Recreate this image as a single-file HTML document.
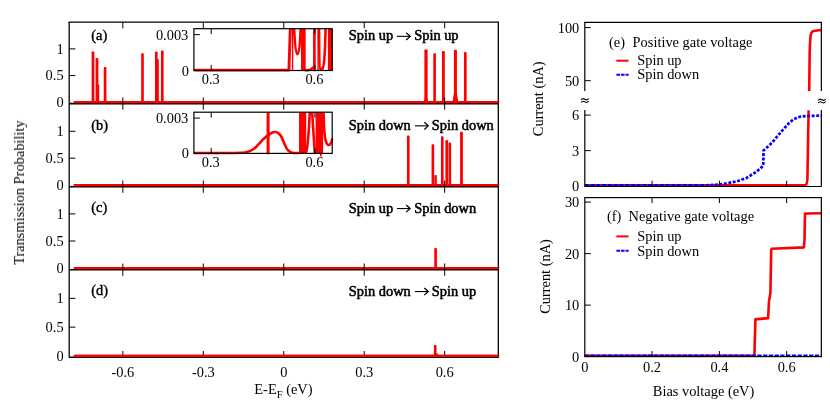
<!DOCTYPE html>
<html lang="en">
<head>
<meta charset="utf-8">
<title>Transmission probability and current</title>
<style>
html,body{margin:0;padding:0;background:#fff;}
body{width:830px;height:415px;overflow:hidden;font-family:"Liberation Serif",serif;}
svg{display:block;}
text{font-family:"Liberation Serif",serif;}
</style>
</head>
<body>
<svg width="830" height="415" viewBox="0 0 830 415" font-family='"Liberation Serif", serif' fill="#000">
<rect x="0" y="0" width="830" height="415" fill="#fff"/>
<defs><mask id="gm" maskUnits="userSpaceOnUse" x="0" y="0" width="830" height="415"><rect x="0" y="0" width="830" height="415" fill="#fff"/></mask></defs>
<g mask="url(#gm)">
<line x1="74.8" y1="102.20" x2="498.30" y2="102.20" stroke="#ff0000" stroke-width="2.3" stroke-linecap="round"/>
<rect x="91.62" y="51.57" width="2.75" height="50.63" fill="#ff0000" rx="0.8"/>
<rect x="95.62" y="57.96" width="2.75" height="44.24" fill="#ff0000" rx="0.8"/>
<rect x="97.38" y="84.61" width="1.85" height="17.59" fill="#ff0000" rx="0.8"/>
<rect x="103.77" y="67.02" width="2.65" height="35.18" fill="#ff0000" rx="0.8"/>
<rect x="141.18" y="53.16" width="2.65" height="49.04" fill="#ff0000" rx="0.8"/>
<rect x="154.98" y="51.57" width="2.65" height="50.63" fill="#ff0000" rx="0.8"/>
<rect x="156.78" y="59.03" width="2.05" height="43.17" fill="#ff0000" rx="0.8"/>
<rect x="160.98" y="50.50" width="2.65" height="51.70" fill="#ff0000" rx="0.8"/>
<rect x="424.38" y="49.43" width="3.25" height="52.77" fill="#ff0000" rx="0.8"/>
<rect x="433.28" y="53.16" width="2.65" height="49.04" fill="#ff0000" rx="0.8"/>
<rect x="441.97" y="51.03" width="2.85" height="51.17" fill="#ff0000" rx="0.8"/>
<rect x="453.88" y="49.70" width="3.05" height="52.50" fill="#ff0000" rx="0.8"/>
<rect x="463.98" y="52.10" width="2.65" height="50.10" fill="#ff0000" rx="0.8"/>
<polygon points="452.40,102.20 454.60,89.41 456.20,89.41 458.40,102.20" fill="#ff0000"/>
<polygon points="423.60,102.20 425.20,96.87 426.80,96.87 428.40,102.20" fill="#ff0000"/>
<line x1="74.8" y1="185.10" x2="498.30" y2="185.10" stroke="#ff0000" stroke-width="2.3" stroke-linecap="round"/>
<rect x="406.98" y="135.60" width="2.65" height="49.50" fill="#ff0000" rx="0.8"/>
<rect x="431.57" y="144.21" width="2.65" height="40.89" fill="#ff0000" rx="0.8"/>
<rect x="434.38" y="174.88" width="2.45" height="10.22" fill="#ff0000" rx="0.8"/>
<rect x="440.98" y="136.14" width="2.65" height="48.96" fill="#ff0000" rx="0.8"/>
<rect x="445.38" y="139.91" width="2.65" height="45.19" fill="#ff0000" rx="0.8"/>
<rect x="448.48" y="142.60" width="2.65" height="42.50" fill="#ff0000" rx="0.8"/>
<rect x="460.07" y="131.84" width="2.85" height="53.26" fill="#ff0000" rx="0.8"/>
<line x1="74.8" y1="268.10" x2="498.30" y2="268.10" stroke="#ff0000" stroke-width="2.3" stroke-linecap="round"/>
<rect x="434.28" y="248.05" width="2.65" height="20.05" fill="#ff0000" rx="0.8"/>
<line x1="74.8" y1="355.90" x2="498.30" y2="355.90" stroke="#ff0000" stroke-width="2.3" stroke-linecap="round"/>
<rect x="433.88" y="344.97" width="2.65" height="10.93" fill="#ff0000" rx="0.8"/>
<rect x="435.88" y="353.60" width="2.25" height="2.30" fill="#ff0000" rx="0.8"/>
<line x1="69.20" y1="22.10" x2="69.20" y2="357.85" stroke="#000" stroke-width="1.3" />
<line x1="498.30" y1="22.10" x2="498.30" y2="357.85" stroke="#000" stroke-width="1.3" />
<line x1="68.55" y1="22.10" x2="498.95" y2="22.10" stroke="#000" stroke-width="1.3" />
<line x1="69.20" y1="103.65" x2="498.30" y2="103.65" stroke="#000" stroke-width="1.6" />
<line x1="69.20" y1="186.80" x2="498.30" y2="186.80" stroke="#000" stroke-width="1.6" />
<line x1="69.20" y1="269.80" x2="498.30" y2="269.80" stroke="#000" stroke-width="1.6" />
<line x1="69.20" y1="357.30" x2="498.30" y2="357.30" stroke="#000" stroke-width="1.6" />
<line x1="74.8" y1="102.20" x2="497.70" y2="102.20" stroke="#ff0000" stroke-width="2.3" stroke-linecap="round"/>
<line x1="74.8" y1="185.10" x2="497.70" y2="185.10" stroke="#ff0000" stroke-width="2.3" stroke-linecap="round"/>
<line x1="74.8" y1="268.10" x2="497.70" y2="268.10" stroke="#ff0000" stroke-width="2.3" stroke-linecap="round"/>
<line x1="74.8" y1="355.90" x2="497.70" y2="355.90" stroke="#ff0000" stroke-width="2.3" stroke-linecap="round"/>
<line x1="122.84" y1="22.10" x2="122.84" y2="28.30" stroke="#000" stroke-width="1.0" />
<line x1="122.84" y1="97.35" x2="122.84" y2="109.65" stroke="#000" stroke-width="1.0" />
<line x1="122.84" y1="180.50" x2="122.84" y2="192.80" stroke="#000" stroke-width="1.0" />
<line x1="122.84" y1="263.50" x2="122.84" y2="275.80" stroke="#000" stroke-width="1.0" />
<line x1="122.84" y1="351.00" x2="122.84" y2="354.90" stroke="#000" stroke-width="1.0" />
<line x1="203.29" y1="22.10" x2="203.29" y2="28.30" stroke="#000" stroke-width="1.0" />
<line x1="203.29" y1="97.35" x2="203.29" y2="109.65" stroke="#000" stroke-width="1.0" />
<line x1="203.29" y1="180.50" x2="203.29" y2="192.80" stroke="#000" stroke-width="1.0" />
<line x1="203.29" y1="263.50" x2="203.29" y2="275.80" stroke="#000" stroke-width="1.0" />
<line x1="203.29" y1="351.00" x2="203.29" y2="354.90" stroke="#000" stroke-width="1.0" />
<line x1="283.75" y1="22.10" x2="283.75" y2="28.30" stroke="#000" stroke-width="1.0" />
<line x1="283.75" y1="97.35" x2="283.75" y2="109.65" stroke="#000" stroke-width="1.0" />
<line x1="283.75" y1="180.50" x2="283.75" y2="192.80" stroke="#000" stroke-width="1.0" />
<line x1="283.75" y1="263.50" x2="283.75" y2="275.80" stroke="#000" stroke-width="1.0" />
<line x1="283.75" y1="351.00" x2="283.75" y2="354.90" stroke="#000" stroke-width="1.0" />
<line x1="364.21" y1="22.10" x2="364.21" y2="28.30" stroke="#000" stroke-width="1.0" />
<line x1="364.21" y1="97.35" x2="364.21" y2="109.65" stroke="#000" stroke-width="1.0" />
<line x1="364.21" y1="180.50" x2="364.21" y2="192.80" stroke="#000" stroke-width="1.0" />
<line x1="364.21" y1="263.50" x2="364.21" y2="275.80" stroke="#000" stroke-width="1.0" />
<line x1="364.21" y1="351.00" x2="364.21" y2="354.90" stroke="#000" stroke-width="1.0" />
<line x1="444.66" y1="22.10" x2="444.66" y2="28.30" stroke="#000" stroke-width="1.0" />
<line x1="444.66" y1="97.35" x2="444.66" y2="109.65" stroke="#000" stroke-width="1.0" />
<line x1="444.66" y1="180.50" x2="444.66" y2="192.80" stroke="#000" stroke-width="1.0" />
<line x1="444.66" y1="263.50" x2="444.66" y2="275.80" stroke="#000" stroke-width="1.0" />
<line x1="444.66" y1="351.00" x2="444.66" y2="354.90" stroke="#000" stroke-width="1.0" />
<text x="63.60" y="107.10" text-anchor="end" font-size="14.4" >0</text>
<line x1="69.20" y1="75.55" x2="75.40" y2="75.55" stroke="#000" stroke-width="1.0" />
<text x="63.60" y="80.45" text-anchor="end" font-size="14.4" >0.5</text>
<line x1="69.20" y1="48.90" x2="75.40" y2="48.90" stroke="#000" stroke-width="1.0" />
<text x="63.60" y="53.80" text-anchor="end" font-size="14.4" >1</text>
<text x="63.60" y="190.00" text-anchor="end" font-size="14.4" >0</text>
<line x1="69.20" y1="158.20" x2="75.40" y2="158.20" stroke="#000" stroke-width="1.0" />
<text x="63.60" y="163.10" text-anchor="end" font-size="14.4" >0.5</text>
<line x1="69.20" y1="131.30" x2="75.40" y2="131.30" stroke="#000" stroke-width="1.0" />
<text x="63.60" y="136.20" text-anchor="end" font-size="14.4" >1</text>
<text x="63.60" y="273.00" text-anchor="end" font-size="14.4" >0</text>
<line x1="69.20" y1="241.00" x2="75.40" y2="241.00" stroke="#000" stroke-width="1.0" />
<text x="63.60" y="245.90" text-anchor="end" font-size="14.4" >0.5</text>
<line x1="69.20" y1="213.90" x2="75.40" y2="213.90" stroke="#000" stroke-width="1.0" />
<text x="63.60" y="218.80" text-anchor="end" font-size="14.4" >1</text>
<text x="63.60" y="360.80" text-anchor="end" font-size="14.4" >0</text>
<line x1="69.20" y1="327.15" x2="75.40" y2="327.15" stroke="#000" stroke-width="1.0" />
<text x="63.60" y="332.05" text-anchor="end" font-size="14.4" >0.5</text>
<line x1="69.20" y1="298.40" x2="75.40" y2="298.40" stroke="#000" stroke-width="1.0" />
<text x="63.60" y="303.30" text-anchor="end" font-size="14.4" >1</text>
<text x="122.84" y="376.90" text-anchor="middle" font-size="14.4" >-0.6</text>
<text x="203.29" y="376.90" text-anchor="middle" font-size="14.4" >-0.3</text>
<text x="283.75" y="376.90" text-anchor="middle" font-size="14.4" >0</text>
<text x="364.21" y="376.90" text-anchor="middle" font-size="14.4" >0.3</text>
<text x="444.66" y="376.90" text-anchor="middle" font-size="14.4" >0.6</text>
<text x="254.3" y="393.9" font-size="14.4">E-E<tspan font-size="10.6" dy="3.6">F</tspan><tspan dy="-3.6"> (eV)</tspan></text>
<text transform="translate(24.0,192.6) rotate(-90)" text-anchor="middle" font-size="14.4">Transmission Probability</text>
<text x="91.30" y="40.00" text-anchor="start" font-size="14.4" stroke="#000" stroke-width="0.4">(a)</text>
<text x="91.30" y="129.50" text-anchor="start" font-size="14.4" stroke="#000" stroke-width="0.4">(b)</text>
<text x="91.30" y="212.20" text-anchor="start" font-size="14.4" stroke="#000" stroke-width="0.4">(c)</text>
<text x="91.30" y="295.20" text-anchor="start" font-size="14.4" stroke="#000" stroke-width="0.4">(d)</text>
<text x="348.80" y="40.30" text-anchor="start" font-size="14.4" stroke="#000" stroke-width="0.55">Spin up</text>
<path d="M396.90,36.35 H409.90" stroke="#000" stroke-width="1.1" fill="none"/>
<path d="M406.20,32.75 L410.20,36.35 L406.20,39.95" stroke="#000" stroke-width="1.25" fill="none" stroke-linejoin="miter"/>
<text x="414.20" y="40.30" text-anchor="start" font-size="14.4" stroke="#000" stroke-width="0.55">Spin up</text>
<text x="348.80" y="129.80" text-anchor="start" font-size="14.4" stroke="#000" stroke-width="0.55">Spin down</text>
<path d="M415.00,125.85 H428.00" stroke="#000" stroke-width="1.1" fill="none"/>
<path d="M424.30,122.25 L428.30,125.85 L424.30,129.45" stroke="#000" stroke-width="1.25" fill="none" stroke-linejoin="miter"/>
<text x="431.80" y="129.80" text-anchor="start" font-size="14.4" stroke="#000" stroke-width="0.55">Spin down</text>
<text x="348.80" y="212.50" text-anchor="start" font-size="14.4" stroke="#000" stroke-width="0.55">Spin up</text>
<path d="M396.90,208.55 H409.90" stroke="#000" stroke-width="1.1" fill="none"/>
<path d="M406.20,204.95 L410.20,208.55 L406.20,212.15" stroke="#000" stroke-width="1.25" fill="none" stroke-linejoin="miter"/>
<text x="414.20" y="212.50" text-anchor="start" font-size="14.4" stroke="#000" stroke-width="0.55">Spin down</text>
<text x="348.80" y="295.50" text-anchor="start" font-size="14.4" stroke="#000" stroke-width="0.55">Spin down</text>
<path d="M415.00,291.55 H428.00" stroke="#000" stroke-width="1.1" fill="none"/>
<path d="M424.30,287.95 L428.30,291.55 L424.30,295.15" stroke="#000" stroke-width="1.25" fill="none" stroke-linejoin="miter"/>
<text x="431.80" y="295.50" text-anchor="start" font-size="14.4" stroke="#000" stroke-width="0.55">Spin up</text>
<clipPath id="clip0"><rect x="193.9" y="28.4" width="139.49999999999997" height="44.0"/></clipPath>
<rect x="193.9" y="28.7" width="138.29999999999998" height="41.8" fill="#fff"/>
<g clip-path="url(#clip0)" fill="none" stroke="#ff0000" stroke-width="2.6" stroke-linejoin="round" stroke-linecap="round">
<path d="M194.9,70.1 L288.2,70.1"/>
<path d="M288.9,70.1 L290.5,23.7" stroke-width="2.9"/>
<path d="M292.6,23.7 L292.6,70.1" stroke-width="1.4"/>
<path d="M293.9,23.7 C294.6,41.7 295.9,53.7 297.5,54.3 C299.1,53.7 300.2,41.7 300.9,23.7"/>
<rect x="301.0" y="28.7" width="4.7" height="41.8" fill="#ff0000" stroke="none"/>
<path d="M305.6,70.3 C309,70.3 311.5,69.5 313.4,67.3"/>
<path d="M314.4,23.7 L314.4,70.1" stroke-width="2.7"/>
<path d="M318.1,23.7 L318.1,70.1" stroke-width="1.4"/>
<path d="M319.0,23.7 C319.2,53.7 319.5,68.3 320.2,68.69999999999999 L322.3,68.89999999999999 C323.6,67.89999999999999 324.3,62.099999999999994 324.9,50.099999999999994 L325.8,23.7"/>
<rect x="327.9" y="28.7" width="4.6" height="41.8" fill="#ff0000" stroke="none"/>
</g>
<rect x="193.9" y="28.7" width="138.29999999999998" height="41.8" fill="none" stroke="#000" stroke-width="1.2"/>
<line x1="211.19" y1="28.70" x2="211.19" y2="34.20" stroke="#000" stroke-width="1.0" />
<line x1="211.19" y1="70.50" x2="211.19" y2="65.00" stroke="#000" stroke-width="1.0" />
<text x="210.69" y="83.60" text-anchor="middle" font-size="14.4" >0.3</text>
<line x1="314.91" y1="28.70" x2="314.91" y2="34.20" stroke="#000" stroke-width="1.0" />
<line x1="314.91" y1="70.50" x2="314.91" y2="65.00" stroke="#000" stroke-width="1.0" />
<text x="314.41" y="83.60" text-anchor="middle" font-size="14.4" >0.6</text>
<line x1="193.90" y1="34.67" x2="199.90" y2="34.67" stroke="#000" stroke-width="1.0" />
<text x="188.30" y="39.82" text-anchor="end" font-size="14.4" >0.003</text>
<text x="188.90" y="75.50" text-anchor="end" font-size="14.4" >0</text>
<clipPath id="clip1"><rect x="193.9" y="111.9" width="139.49999999999997" height="43.400000000000006"/></clipPath>
<rect x="193.9" y="112.2" width="138.29999999999998" height="41.2" fill="#fff"/>
<g clip-path="url(#clip1)" fill="none" stroke="#ff0000" stroke-width="2.6" stroke-linejoin="round" stroke-linecap="round">
<path d="M194.9,153.0 C199.92,153.00 217.40,153.03 225.00,153.00 C232.60,152.97 236.83,152.95 240.50,152.80 C244.17,152.65 244.82,152.73 247.00,152.10 C249.18,151.47 251.70,150.28 253.60,149.00 C255.50,147.72 256.78,146.03 258.40,144.40 C260.02,142.77 261.68,140.75 263.30,139.20 C264.92,137.65 266.65,136.18 268.10,135.10 C269.55,134.02 270.80,133.22 272.00,132.70 C273.20,132.18 274.22,131.88 275.30,132.00 C276.38,132.12 277.50,132.65 278.50,133.40 C279.50,134.15 280.23,134.57 281.30,136.50 C282.37,138.43 283.87,142.80 284.90,145.00 C285.93,147.20 286.68,148.58 287.50,149.70 C288.32,150.82 288.97,151.20 289.80,151.70 C290.63,152.20 291.00,152.48 292.50,152.70 C294.00,152.92 297.75,152.95 298.80,153.00"/>
<path d="M268.1,107.2 L268.1,153.0" stroke-width="3.0"/>
<rect x="299.0" y="112.2" width="7.2" height="41.2" fill="#ff0000" stroke="none"/>
<path d="M306.2,152.0 C307.6,147.0 308.6,135.0 309.3,121.2 L310,107.2"/>
<path d="M311.8,107.2 L314.8,153.0"/>
<rect x="315.6" y="112.2" width="7.5" height="41.2" fill="#ff0000" stroke="none"/>
<path d="M323.4,107.2 C323.8,124.2 324.2,131.2 324.5,133.2 C325.0,139.2 326.4,144.0 328.1,145.0 C329.6,145.4 331.2,143.2 332.3,139.4"/>
</g>
<path d="M320.8,153.4 L320.8,156.0" stroke="#ff0000" stroke-width="1.6" stroke-linecap="round"/>
<rect x="193.9" y="112.2" width="138.29999999999998" height="41.2" fill="none" stroke="#000" stroke-width="1.2"/>
<line x1="211.19" y1="112.20" x2="211.19" y2="117.70" stroke="#000" stroke-width="1.0" />
<line x1="211.19" y1="153.40" x2="211.19" y2="147.90" stroke="#000" stroke-width="1.0" />
<text x="210.69" y="166.50" text-anchor="middle" font-size="14.4" >0.3</text>
<line x1="314.91" y1="112.20" x2="314.91" y2="117.70" stroke="#000" stroke-width="1.0" />
<line x1="314.91" y1="153.40" x2="314.91" y2="147.90" stroke="#000" stroke-width="1.0" />
<text x="314.41" y="166.50" text-anchor="middle" font-size="14.4" >0.6</text>
<line x1="193.90" y1="118.09" x2="199.90" y2="118.09" stroke="#000" stroke-width="1.0" />
<text x="188.30" y="123.24" text-anchor="end" font-size="14.4" >0.003</text>
<text x="188.90" y="158.40" text-anchor="end" font-size="14.4" >0</text>
<path d="M584.8,185.29999999999998 L804.6,185.29999999999998 C806.6,185.29999999999998 807.2,183.29999999999998 807.4,179.29999999999998 L808.6,110.3" fill="none" stroke="#ff0000" stroke-width="2.6" stroke-linejoin="round"/>
<path d="M809.2,91.0 L809.7,51 L810.3,38.5 C810.6,33.4 811.4,31.5 813.6,31.0 C816,30.5 819,30.2 821.35,30.0" fill="none" stroke="#ff0000" stroke-width="2.6" stroke-linejoin="round"/>
<line x1="584.8" y1="185.3" x2="701.5" y2="185.3" stroke="#0000ff" stroke-width="2.6" stroke-dasharray="4.3 1.45"/>
<path d="M701.5,185.3 L710,185.2 L719.2,184.5 L728.3,183.0 L737.5,181.2 L746.6,177.9 L755.8,172.1 L760.5,168.4 L763.3,165.5 L763.5,150.6 L771.8,143.0 L781,132.0 L789,123.0 L793,119.8 L797,117.6 L801,116.5 L806.2,116.0 L821.4,115.6" fill="none" stroke="#0000ff" stroke-width="2.7" stroke-dasharray="2.9 1.6" stroke-linejoin="round"/>
<line x1="584.80" y1="22.30" x2="584.80" y2="91.00" stroke="#000" stroke-width="1.2" />
<line x1="584.80" y1="110.00" x2="584.80" y2="186.80" stroke="#000" stroke-width="1.2" />
<line x1="821.35" y1="22.30" x2="821.35" y2="91.00" stroke="#000" stroke-width="1.2" />
<line x1="821.35" y1="110.00" x2="821.35" y2="186.80" stroke="#000" stroke-width="1.2" />
<line x1="584.20" y1="22.30" x2="821.95" y2="22.30" stroke="#000" stroke-width="1.2" />
<line x1="584.80" y1="186.50" x2="821.35" y2="186.50" stroke="#000" stroke-width="1.0" />
<line x1="652.09" y1="186.20" x2="652.09" y2="180.70" stroke="#000" stroke-width="1.0" />
<line x1="719.38" y1="186.20" x2="719.38" y2="180.70" stroke="#000" stroke-width="1.0" />
<line x1="786.66" y1="186.20" x2="786.66" y2="180.70" stroke="#000" stroke-width="1.0" />
<line x1="584.80" y1="27.60" x2="590.80" y2="27.60" stroke="#000" stroke-width="1.0" />
<text x="579.30" y="32.50" text-anchor="end" font-size="14.4" >100</text>
<line x1="584.80" y1="80.70" x2="590.80" y2="80.70" stroke="#000" stroke-width="1.0" />
<text x="579.30" y="85.60" text-anchor="end" font-size="14.4" >50</text>
<line x1="584.80" y1="115.10" x2="590.80" y2="115.10" stroke="#000" stroke-width="1.0" />
<text x="579.30" y="120.00" text-anchor="end" font-size="14.4" >6</text>
<line x1="584.80" y1="150.65" x2="590.80" y2="150.65" stroke="#000" stroke-width="1.0" />
<text x="579.30" y="155.55" text-anchor="end" font-size="14.4" >3</text>
<text x="579.30" y="190.80" text-anchor="end" font-size="14.4" >0</text>
<path d="M581.10,99.95 C582.30,98.25 583.90,98.55 584.90,99.25 C585.90,99.95 587.50,100.05 588.70,98.45" fill="none" stroke="#000" stroke-width="1.05"/>
<path d="M581.10,102.55 C582.30,100.85 583.90,101.15 584.90,101.85 C585.90,102.55 587.50,102.65 588.70,101.05" fill="none" stroke="#000" stroke-width="1.05"/>
<path d="M818.10,100.45 C819.30,98.75 820.90,99.05 821.90,99.75 C822.90,100.45 824.50,100.55 825.70,98.95" fill="none" stroke="#000" stroke-width="1.05"/>
<path d="M818.10,103.05 C819.30,101.35 820.90,101.65 821.90,102.35 C822.90,103.05 824.50,103.15 825.70,101.55" fill="none" stroke="#000" stroke-width="1.05"/>
<text transform="translate(543.4,98.8) rotate(-90)" text-anchor="middle" font-size="14.4">Current (nA)</text>
<text x="609.00" y="46.70" text-anchor="start" font-size="14.4" >(e)</text>
<text x="632.60" y="46.70" text-anchor="start" font-size="14.4" >Positive gate voltage</text>
<line x1="616.40" y1="60.70" x2="628.50" y2="60.70" stroke="#ff0000" stroke-width="2.0" />
<text x="637.20" y="65.00" text-anchor="start" font-size="14.4" >Spin up</text>
<line x1="616.4" y1="74.8" x2="628.6" y2="74.8" stroke="#0000ff" stroke-width="2.0" stroke-dasharray="3.6 1"/>
<text x="637.20" y="79.40" text-anchor="start" font-size="14.4" >Spin down</text>
<path d="M584.8,355.8 L754.4,355.8 L755.4,319.4 L768.1,318.1 L769.0,301 L770.4,293.5 L771.2,250.5 L771.6,248.8 L803.9,247.4 L804.5,240 L805.0,213.6 L821.35,213.3" fill="none" stroke="#ff0000" stroke-width="2.6" stroke-linejoin="round"/>
<line x1="584.8" y1="355.8" x2="821.35" y2="355.8" stroke="#0000ff" stroke-width="2.6" stroke-dasharray="4.3 1.45"/>
<rect x="584.8" y="197.6" width="236.55000000000007" height="159.00000000000003" fill="none" stroke="#000" stroke-width="1.2"/>
<line x1="652.09" y1="356.60" x2="652.09" y2="351.10" stroke="#000" stroke-width="1.0" />
<line x1="652.09" y1="197.60" x2="652.09" y2="203.10" stroke="#000" stroke-width="1.0" />
<text x="652.09" y="371.80" text-anchor="middle" font-size="14.4" >0.2</text>
<line x1="719.38" y1="356.60" x2="719.38" y2="351.10" stroke="#000" stroke-width="1.0" />
<line x1="719.38" y1="197.60" x2="719.38" y2="203.10" stroke="#000" stroke-width="1.0" />
<text x="719.38" y="371.80" text-anchor="middle" font-size="14.4" >0.4</text>
<line x1="786.66" y1="356.60" x2="786.66" y2="351.10" stroke="#000" stroke-width="1.0" />
<line x1="786.66" y1="197.60" x2="786.66" y2="203.10" stroke="#000" stroke-width="1.0" />
<text x="786.66" y="371.80" text-anchor="middle" font-size="14.4" >0.6</text>
<text x="584.80" y="371.80" text-anchor="middle" font-size="14.4" >0</text>
<line x1="584.80" y1="202.10" x2="590.80" y2="202.10" stroke="#000" stroke-width="1.0" />
<text x="579.30" y="207.00" text-anchor="end" font-size="14.4" >30</text>
<line x1="584.80" y1="253.60" x2="590.80" y2="253.60" stroke="#000" stroke-width="1.0" />
<text x="579.30" y="258.50" text-anchor="end" font-size="14.4" >20</text>
<line x1="584.80" y1="305.10" x2="590.80" y2="305.10" stroke="#000" stroke-width="1.0" />
<text x="579.30" y="310.00" text-anchor="end" font-size="14.4" >10</text>
<text x="579.30" y="361.50" text-anchor="end" font-size="14.4" >0</text>
<text transform="translate(550.0,276.5) rotate(-90)" text-anchor="middle" font-size="14.4">Current (nA)</text>
<text x="607.00" y="220.70" text-anchor="start" font-size="14.4" >(f)</text>
<text x="628.60" y="220.70" text-anchor="start" font-size="14.4" >Negative gate voltage</text>
<line x1="616.40" y1="236.40" x2="628.50" y2="236.40" stroke="#ff0000" stroke-width="2.0" />
<text x="637.20" y="241.00" text-anchor="start" font-size="14.4" >Spin up</text>
<line x1="616.4" y1="250.7" x2="628.6" y2="250.7" stroke="#0000ff" stroke-width="2.0" stroke-dasharray="3.6 1"/>
<text x="637.20" y="255.60" text-anchor="start" font-size="14.4" >Spin down</text>
<text x="652.80" y="395.80" text-anchor="start" font-size="14.4" >Bias voltage (eV)</text>
</g>
</svg>
</body>
</html>
